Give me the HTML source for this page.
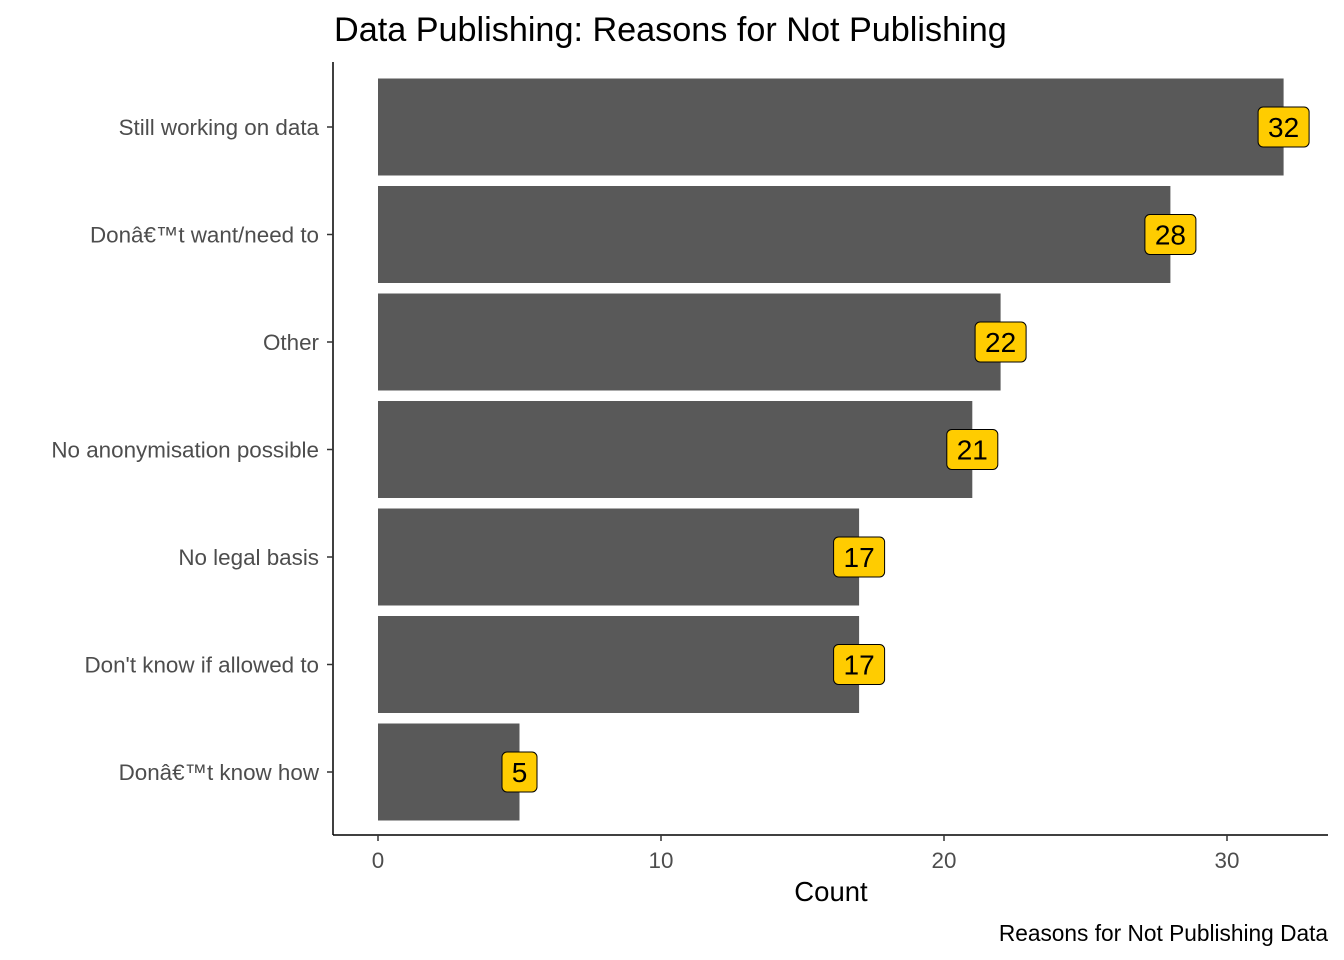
<!DOCTYPE html>
<html><head><meta charset="utf-8"><style>
body{margin:0;background:#fff;}
svg{display:block;font-family:"Liberation Sans",Arial,sans-serif;}
</style></head><body>
<svg id="chart" width="1344" height="960">
<text x="334" y="41" font-size="34.2" fill="#000">Data Publishing: Reasons for Not Publishing</text>
<line x1="333" y1="62" x2="333" y2="835" stroke="#000" stroke-width="1.5"/>
<line x1="333" y1="835" x2="1328" y2="835" stroke="#000" stroke-width="1.5"/>
<g id="bars"></g><g id="yticks"></g><g id="xticks"></g>
<text x="831" y="901" font-size="27.5" text-anchor="middle" fill="#000">Count</text>
<text x="1328" y="941" font-size="22.7" text-anchor="end" fill="#000">Reasons for Not Publishing Data</text>
</svg>
<script>
const categories=["Still working on data","Donâ€™t want/need to","Other","No anonymisation possible","No legal basis","Don't know if allowed to","Donâ€™t know how"];
const counts=[32,28,22,21,17,17,5];
const xTicks=[0,10,20,30];
const NS="http://www.w3.org/2000/svg";
const x=v=>378+v*28.3;
const y=i=>127+i*107.5;
const bh=97;
function mk(tag,attrs,parent){const e=document.createElementNS(NS,tag);for(const k in attrs)e.setAttribute(k,attrs[k]);parent.appendChild(e);return e;}
const gb=document.getElementById('bars'),gy=document.getElementById('yticks'),gx=document.getElementById('xticks');
categories.forEach((c,i)=>{
  const r=mk('rect',{x:x(0),y:y(i)-bh/2,width:x(counts[i])-x(0),height:bh,fill:'#595959'},gb);
  
  
  const w=String(counts[i]).length>1?51:35;
  const lb=mk('rect',{x:x(counts[i])-w/2,y:y(i)-20,width:w,height:40,rx:5,fill:'#FFCC00',stroke:'#000','stroke-width':1},gb);
  
  
  const lt=mk('text',{x:x(counts[i]),y:y(i)+10,'font-size':28,'text-anchor':'middle',fill:'#000'},gb);
  lt.textContent=counts[i];
  
  
  const tk=mk('line',{x1:327,x2:333,y1:y(i),y2:y(i),stroke:'#333','stroke-width':1.5},gy);
  
  
  const t=mk('text',{x:319,y:y(i)+8,'font-size':22.4,'text-anchor':'end',fill:'#4d4d4d'},gy);
  t.textContent=c;
  
  
});
xTicks.forEach(v=>{
  const tk=mk('line',{x1:x(v),x2:x(v),y1:835,y2:841,stroke:'#333','stroke-width':1.5},gx);
  
  
  const t=mk('text',{x:x(v),y:868,'font-size':22.4,'text-anchor':'middle',fill:'#4d4d4d'},gx);
  t.textContent=v;
  
  
});
</script>
</body></html>
